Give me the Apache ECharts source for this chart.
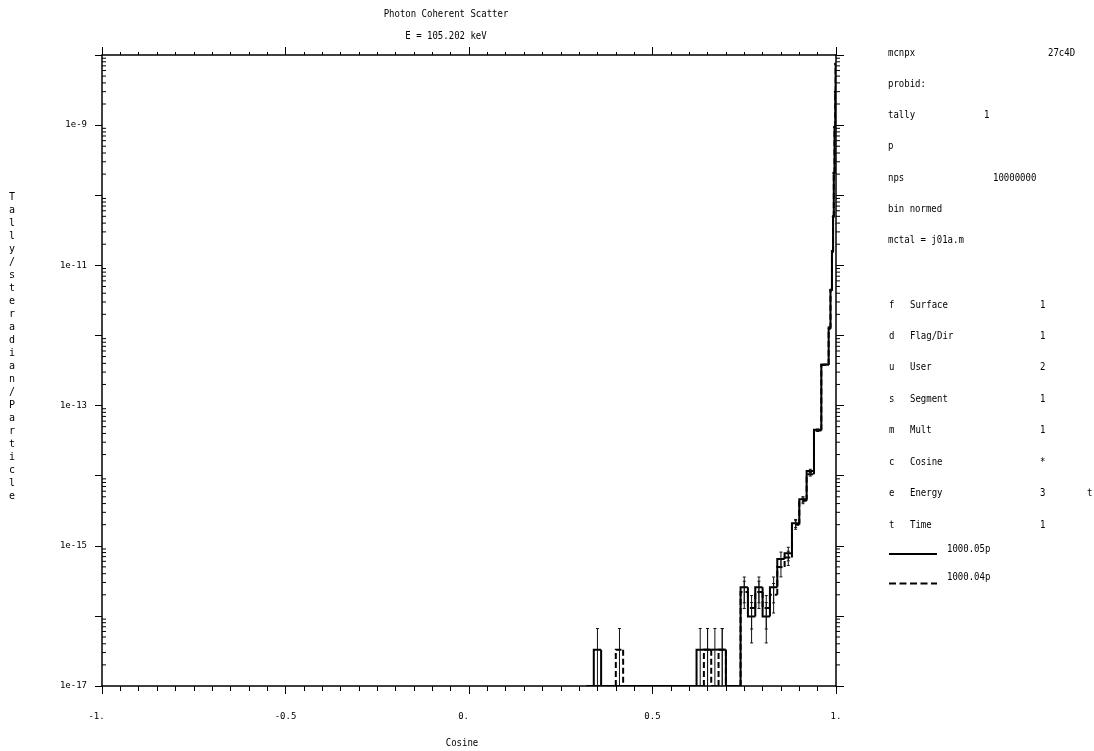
<!DOCTYPE html>
<html><head><meta charset="utf-8">
<script src="https://cdn.jsdelivr.net/npm/echarts@6/dist/echarts.min.js"></script>
<style>html,body{margin:0;padding:0;background:#fff}#c{width:1094px;height:751px}</style>
</head><body><div id="c"></div>
<script>
// ---------------- data ----------------
const binEdges = [0.32,0.34,0.36,0.38,0.40,0.42,0.44,0.46,0.48,0.50,0.52,0.54,0.56,0.58,0.60,0.62,0.64,0.66,0.68,0.70,0.72,0.74,0.76,0.78,0.80,0.82,0.84,0.86,0.88,0.90,0.92,0.94,0.96,0.98,0.985,0.989,0.992,0.994,0.996,0.998,0.999,1.0];
const solidValues = [0,3.3e-17,0,0,0,0,0,0,0,0,0,0,0,0,0,3.3e-17,3.3e-17,3.3e-17,3.3e-17,0,0,2.56e-16,9.8e-17,2.56e-16,9.8e-17,2.56e-16,6.5e-16,7.8e-16,2.1e-15,4.6e-15,1.17e-14,4.5e-14,3.85e-13,1.3e-12,4.5e-12,1.6e-11,5.0e-11,2.1e-10,9.5e-10,3.0e-9,7.5e-9];
const solidRelErr = [0,1,0,0,0,0,0,0,0,0,0,0,0,0,0,1,1,1,1,0,0,0.4,0.58,0.4,0.58,0.4,0.25,0.22,0.13,0.09,0.055,0.03,0.012,0.008,0.006,0.005,0.004,0.003,0.002,0.002,0.003];
const dashedValues = [0,0,0,0,3.3e-17,0,0,0,0,0,0,0,0,0,0,0,3.3e-17,0,3.3e-17,0,0,2.2e-16,1.3e-16,2.2e-16,1.3e-16,2.0e-16,5.0e-16,6.8e-16,2.0e-15,4.4e-15,1.05e-14,4.4e-14,3.8e-13,1.25e-12,4.4e-12,1.55e-11,4.9e-11,2.05e-10,9.3e-10,2.95e-9,7.4e-9];
const dashedRelErr = [0,0,0,0,1,0,0,0,0,0,0,0,0,0,0,0,1,0,1,0,0,0.42,0.5,0.42,0.5,0.45,0.28,0.23,0.14,0.095,0.06,0.03,0.012,0.008,0.006,0.005,0.004,0.003,0.002,0.002,0.003];
const seriesNames = ['1000.05p', '1000.04p'];
const xTickValues = [-1, -0.5, 0, 0.5, 1];
const xTickLabels = ['-1.', '-0.5', '0.', '0.5', '1.'];
const yTickExponents = [-17, -15, -13, -11, -9];
const yTickLabels = ['1e-17', '1e-15', '1e-13', '1e-11', '1e-9'];
const titleLines = ['Photon Coherent Scatter', 'E = 105.202 keV'];
const xAxisTitle = 'Cosine';
const yAxisTitle = 'Tally/steradian/Particle';
const infoTop = [['mcnpx', '27c4D'], ['probid:'], ['tally', '1'], ['p'], ['nps', '10000000'], ['bin normed'], ['mctal = j01a.m']];
const infoBins = [['f', 'Surface', '1'], ['d', 'Flag/Dir', '1'], ['u', 'User', '2'], ['s', 'Segment', '1'], ['m', 'Mult', '1'], ['c', 'Cosine', '*'], ['e', 'Energy', '3', 't'], ['t', 'Time', '1']];

// ---------------- layout ----------------
const FONT = '10px "DejaVu Sans Mono", "Liberation Mono", monospace';
const INK = '#000';
const Y_MIN = 1e-17, Y_MAX = 1e-8;
const G = {left: 102, right: 258, top: 55, bottom: 65};

function txt(x, y, s, align) {
  return {type: 'text', x: x, y: y, scaleX: 0.9, z: 10, silent: true,
    style: {text: s, font: FONT, fill: INK, textAlign: align || 'left', textVerticalAlign: 'middle'}};
}

function makeData(vals, errs) {
  return vals.map((v, i) => [binEdges[i], binEdges[i + 1], v, i > 0 ? vals[i - 1] : 0, errs[i]]);
}

function stepRender(dashed) {
  return function (params, api) {
    const lo = api.value(0), hi = api.value(1), v = api.value(2), prev = api.value(3), e = api.value(4);
    const cv = v > 0 ? v : Y_MIN, cp = prev > 0 ? prev : Y_MIN;
    const p0 = api.coord([lo, cp]), p1 = api.coord([lo, cv]), p2 = api.coord([hi, cv]);
    const children = [{type: 'polyline', shape: {points: [p0, p1, p2]},
      style: {stroke: INK, lineWidth: 2, fill: null, lineDash: dashed ? [6, 3] : null}}];
    if (v > 0 && e > 0) {
      const xc = (lo + hi) / 2;
      const top = api.coord([xc, v * (1 + e)]);
      const lowV = v * (1 - e);
      const bot = api.coord([xc, lowV > Y_MIN ? lowV : Y_MIN]);
      const es = {stroke: '#111', lineWidth: 1};
      children.push({type: 'line', shape: {x1: top[0], y1: top[1], x2: bot[0], y2: bot[1]}, style: es});
      children.push({type: 'line', shape: {x1: top[0] - 1.5, y1: top[1], x2: top[0] + 1.5, y2: top[1]}, style: es});
      if (lowV > Y_MIN) children.push({type: 'line', shape: {x1: bot[0] - 1.5, y1: bot[1], x2: bot[0] + 1.5, y2: bot[1]}, style: es});
    }
    return {type: 'group', children: children};
  };
}

const axisLineStyle = {color: INK, width: 1.5};
const xLabelFmt = v => {
  const i = xTickValues.findIndex(t => Math.abs(t - v) < 1e-9);
  if (i < 0) return '';
  const s = xTickLabels[i];
  return (s.endsWith('.') && v < 1) ? s + '  ' : s;
};
const yLabelFmt = v => { const ex = Math.round(Math.log10(v)); const i = yTickExponents.indexOf(ex); return i >= 0 ? yTickLabels[i] : ''; };

const baseGraphics = [];
baseGraphics.push(txt(446, 14, titleLines[0], 'center'));
baseGraphics.push(txt(446, 36, titleLines[1], 'center'));
baseGraphics.push(txt(462, 743, xAxisTitle, 'center'));
baseGraphics.push({type: 'text', x: 12, y: 347, z: 10, silent: true,
  style: {text: yAxisTitle.split('').join('\n'), font: FONT, fill: INK, textAlign: 'center', textVerticalAlign: 'middle', lineHeight: 13}});
const topCol2 = {mcnpx: 1048, tally: 984, nps: 993};
infoTop.forEach((row, i) => {
  const y = 53 + i * 31.3;
  baseGraphics.push(txt(888, y, row[0]));
  if (row.length > 1) baseGraphics.push(txt(topCol2[row[0]], y, row[1]));
});
const binCols = [889, 910, 1040, 1087];
infoBins.forEach((row, i) => {
  const y = 305 + i * 31.43;
  row.forEach((s, j) => baseGraphics.push(txt(binCols[j], y, s)));
});
// legend
baseGraphics.push({type: 'line', z: 10, shape: {x1: 889, y1: 554, x2: 937, y2: 554}, style: {stroke: INK, lineWidth: 2}});
baseGraphics.push(txt(947, 549, seriesNames[0]));
baseGraphics.push({type: 'line', z: 10, shape: {x1: 889, y1: 583.5, x2: 937, y2: 583.5}, style: {stroke: INK, lineWidth: 2, lineDash: [7, 3.5]}});
baseGraphics.push(txt(947, 577, seriesNames[1]));

const chart = echarts.init(document.getElementById('c'), null, {renderer: 'canvas'});
const option = {
  animation: false,
  backgroundColor: '#fff',
  grid: G,
  xAxis: [
    {type: 'value', position: 'bottom', min: -1, max: 1, interval: 0.5,
      axisLine: {show: true, lineStyle: axisLineStyle, onZero: false},
      axisTick: {show: true, inside: false, length: 8, lineStyle: {color: INK, width: 1}},
      minorTick: {show: true, splitNumber: 10, length: 5, lineStyle: {color: INK, width: 1}},
      splitLine: {show: false}, minorSplitLine: {show: false},
      axisLabel: {show: true, formatter: xLabelFmt, margin: 26, fontFamily: 'DejaVu Sans Mono', fontSize: 9, color: INK}},
    {type: 'value', position: 'top', min: -1, max: 1, interval: 0.5,
      axisLine: {show: true, lineStyle: axisLineStyle, onZero: false},
      axisTick: {show: true, inside: false, length: 8, lineStyle: {color: INK, width: 1}},
      minorTick: {show: true, splitNumber: 10, length: 3, lineStyle: {color: INK, width: 1}},
      splitLine: {show: false}, axisLabel: {show: false}}
  ],
  yAxis: [
    {type: 'log', logBase: 10, position: 'left', min: Y_MIN, max: Y_MAX, splitNumber: 9,
      axisLine: {show: true, lineStyle: axisLineStyle, onZero: false},
      axisTick: {show: true, inside: false, length: 7, lineStyle: {color: INK, width: 1}},
      splitLine: {show: false},
      axisLabel: {show: true, formatter: yLabelFmt, margin: 15, fontFamily: 'DejaVu Sans Mono', fontSize: 9, color: INK}},
    {type: 'log', logBase: 10, position: 'right', min: Y_MIN, max: Y_MAX, splitNumber: 9,
      axisLine: {show: true, lineStyle: axisLineStyle, onZero: false},
      axisTick: {show: true, inside: false, length: 8, lineStyle: {color: INK, width: 1}},
      splitLine: {show: false}, axisLabel: {show: false}}
  ],
  series: [
    {type: 'custom', name: seriesNames[1], xAxisIndex: 0, yAxisIndex: 0, clip: true,
      renderItem: stepRender(true), encode: {x: [0, 1], y: 2}, data: makeData(dashedValues, dashedRelErr)},
    {type: 'custom', name: seriesNames[0], xAxisIndex: 0, yAxisIndex: 0, clip: true,
      renderItem: stepRender(false), encode: {x: [0, 1], y: 2}, data: makeData(solidValues, solidRelErr)}
  ],
  graphic: baseGraphics
};
chart.setOption(option);

// minor ticks on the log axes (2..9 within each decade)
const tickG = [];
const xl = chart.convertToPixel({xAxisIndex: 0}, -1);
const xr = chart.convertToPixel({xAxisIndex: 0}, 1);
for (let d = -17; d < -8; d++) {
  for (let m = 2; m <= 9; m++) {
    const y = chart.convertToPixel({yAxisIndex: 0}, m * Math.pow(10, d));
    tickG.push({type: 'line', z: 10, silent: true, shape: {x1: xl, y1: y, x2: xl + 4, y2: y}, style: {stroke: INK, lineWidth: 1}});
    tickG.push({type: 'line', z: 10, silent: true, shape: {x1: xr, y1: y, x2: xr + 4, y2: y}, style: {stroke: INK, lineWidth: 1}});
  }
}
chart.setOption({graphic: baseGraphics.concat(tickG)});
</script></body></html>
